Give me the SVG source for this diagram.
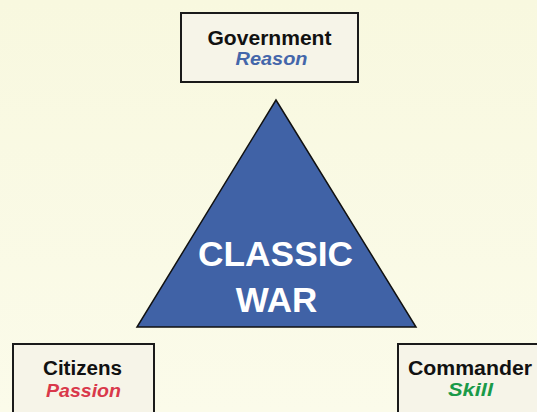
<svg xmlns="http://www.w3.org/2000/svg" width="537" height="412" viewBox="0 0 537 412">
<defs>
<linearGradient id="bg" x1="0" y1="0" x2="0" y2="1">
<stop offset="0" stop-color="#f8f8df"/>
<stop offset="1" stop-color="#fbfbea"/>
</linearGradient>
<style>
.box{fill:#f6f4e8;stroke:#1a1a1a;stroke-width:2}
.t{font-family:"Liberation Sans",Arial,sans-serif;font-weight:bold;font-size:20px;text-anchor:middle}
.s{font-family:"Liberation Sans",Arial,sans-serif;font-weight:bold;font-style:italic;font-size:17.5px;text-anchor:middle}
.big{font-family:"Liberation Sans",Arial,sans-serif;font-weight:bold;font-size:35px;fill:#fff;text-anchor:middle}
</style>
</defs>
<rect width="537" height="412" fill="url(#bg)"/>
<g id="triangle">
<polygon points="276,100 137,327 416,327" fill="#4062a6" stroke="#111" stroke-width="1.5" stroke-linejoin="miter"/>
<text class="big" x="275.5" y="266" textLength="155" lengthAdjust="spacingAndGlyphs">CLASSIC</text>
<text class="big" x="276.5" y="312">WAR</text>
</g>
<g id="government">
<rect class="box" x="181" y="13" width="177" height="69"/>
<text class="t" x="269.5" y="44.5" fill="#111" textLength="124" lengthAdjust="spacingAndGlyphs">Government</text>
<text class="s" x="271.5" y="64.5" fill="#4466aa" textLength="72" lengthAdjust="spacingAndGlyphs">Reason</text>
</g>
<g id="citizens">
<rect class="box" x="13" y="344" width="141" height="75"/>
<text class="t" x="82.5" y="375" fill="#111" textLength="79" lengthAdjust="spacingAndGlyphs">Citizens</text>
<text class="s" x="83.5" y="397" fill="#d9384a" textLength="75" lengthAdjust="spacingAndGlyphs">Passion</text>
</g>
<g id="commander">
<rect class="box" x="398" y="344" width="145" height="75"/>
<text class="t" x="470" y="375" fill="#111" textLength="124" lengthAdjust="spacingAndGlyphs">Commander</text>
<text class="s" x="470.5" y="396" fill="#1a9a48" textLength="45" lengthAdjust="spacingAndGlyphs">Skill</text>
</g>
<g id="connectors"></g>
</svg>
